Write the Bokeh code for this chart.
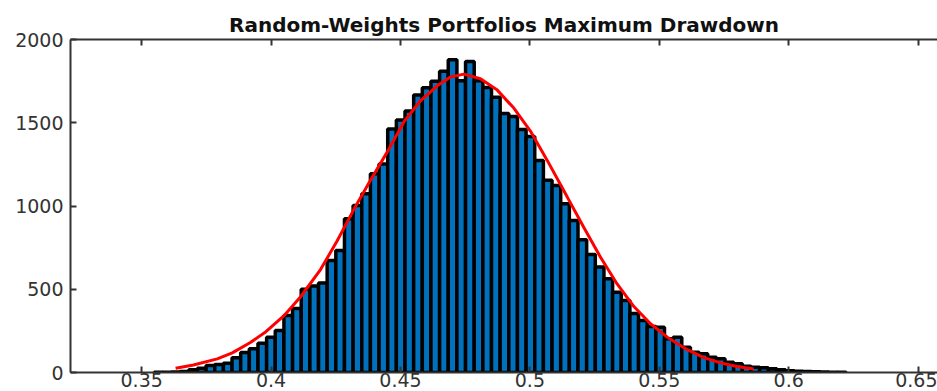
import numpy as np
from bokeh.plotting import figure
from bokeh.models import LinearAxis, FixedTicker, Range1d
from bokeh.embed import file_html
from bokeh.resources import INLINE

# ---------------- data ----------------
chart_title = "Random-Weights Portfolios Maximum Drawdown"

# histogram: first bin centre, bin width, counts per bin
first_bin_center = 0.3565
bin_width = 0.003342
counts = [1, 2, 3, 6, 16, 26, 42, 48, 56, 88,
          120, 142, 176, 212, 252, 342, 385, 500, 520, 537,
          673, 733, 923, 1003, 1073, 1193, 1253, 1463, 1517, 1570,
          1667, 1710, 1750, 1810, 1878, 1752, 1868, 1752, 1712, 1653,
          1556, 1538, 1460, 1418, 1273, 1155, 1123, 1013, 913, 797,
          709, 633, 563, 482, 432, 355, 312, 277, 272, 202,
          212, 152, 122, 112, 92, 82, 62, 52, 38, 32,
          28, 22, 16, 10, 8, 6, 4, 3, 2, 1]

# fitted curve, points
curve_x = [0.3631, 0.3700, 0.3792, 0.3850, 0.3920, 0.3980, 0.4049, 0.4114,
           0.4191, 0.4255, 0.4320, 0.4384, 0.4449, 0.4513, 0.4577, 0.4642,
           0.4693, 0.4745, 0.4809, 0.4874, 0.4938, 0.5002, 0.5067, 0.5144,
           0.5208, 0.5273, 0.5337, 0.5402, 0.5466, 0.5531, 0.5608, 0.5672,
           0.5737, 0.5801, 0.5865]
curve_y = [25, 45, 82, 118, 180, 245, 340, 455,
           618, 790, 980, 1155, 1325, 1505, 1632, 1722,
           1775, 1792, 1764, 1696, 1588, 1450, 1274, 1055,
           872, 692, 532, 396, 293, 212, 137, 89,
           58, 36, 21]

x_ticks = [0.35, 0.4, 0.45, 0.5, 0.55, 0.6, 0.65]
x_tick_labels = ["0.35", "0.4", "0.45", "0.5", "0.55", "0.6", "0.65"]
y_ticks = [0, 500, 1000, 1500, 2000]

# ---------------- figure ----------------
bin_centers = first_bin_center + bin_width * np.arange(len(counts))

p = figure(width=937, height=391, output_backend="svg", toolbar_location=None,
           x_range=Range1d(0.32249, 0.6575), y_range=Range1d(0, 2000),
           min_border_left=70, min_border_right=0, min_border_top=39,
           min_border_bottom=19, background_fill_color="white",
           border_fill_color="white", outline_line_color=None)
p.grid.visible = False

p.vbar(x=bin_centers, top=counts, bottom=0, width=bin_width,
       fill_color="#0072BD", line_color="black", line_width=3.5)
p.line(curve_x, curve_y, line_color="#FF0000", line_width=3)

AX = "#333333"
FONT = "DejaVu Sans"

def style(ax):
    ax.axis_line_color = AX
    ax.axis_line_width = 2
    ax.major_tick_line_color = AX
    ax.major_tick_line_width = 2
    ax.major_tick_in = 6
    ax.major_tick_out = 0
    ax.minor_tick_line_color = None
    ax.major_label_text_font = FONT
    ax.major_label_text_font_size = "19px"
    ax.major_label_text_color = AX

xa = p.xaxis[0]
xa.ticker = FixedTicker(ticks=x_ticks)
xa.major_label_overrides = dict(zip(x_ticks, x_tick_labels))
style(xa)
xa.major_label_standoff = 0

ya = p.yaxis[0]
ya.ticker = FixedTicker(ticks=y_ticks)
style(ya)
ya.major_label_standoff = 7

top = LinearAxis(ticker=FixedTicker(ticks=x_ticks))
style(top)
top.major_label_text_color = None
top.major_label_text_font_size = "1px"
top.major_label_standoff = 0
p.add_layout(top, "above")

p.title.text = chart_title
p.title.text_font = FONT
p.title.text_font_style = "bold"
p.title.text_font_size = "20px"
p.title.text_color = "#111111"
p.title.align = "center"
p.title.offset = 2
p.title.standoff = 5

open("out.html", "w").write(file_html(p, INLINE))
